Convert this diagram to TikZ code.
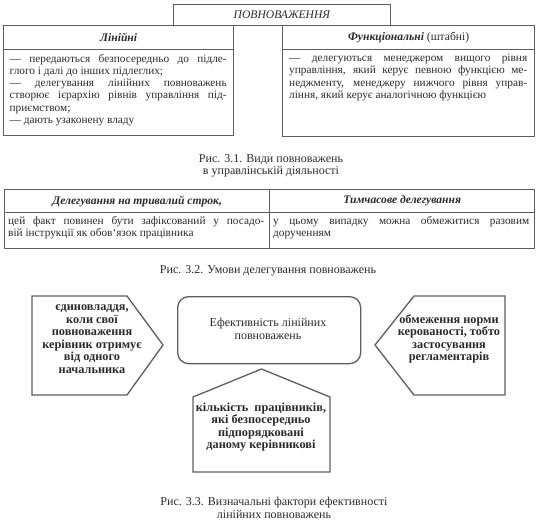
\documentclass[tikz,border=0pt]{standalone}
\usepackage{fontspec}
\setmainfont{Liberation Serif}
\definecolor{linec}{HTML}{5E5E5E}
\definecolor{txt}{HTML}{2A2A2A}
\begin{document}
\begin{tikzpicture}[x=1pt,y=-1pt,
  frame/.style={draw=linec, line width=1.3pt, inner sep=0pt, text=txt},
  bodytext/.style={anchor=north west, inner sep=0pt, align=justify, text=txt,
     font=\fontsize{11.3}{12.2}\selectfont},
  headtext/.style={font=\fontsize{11.6}{12}\selectfont, text=txt},
  caption/.style={align=center, text=txt, font=\fontsize{12}{12.5}\selectfont},
  factor/.style={align=center, text=txt, font=\fontsize{12.3}{12.5}\selectfont\bfseries},
  shapeline/.style={draw=linec, line width=1.3pt}
]
\useasboundingbox (0,0) rectangle (537,524);
\hyphenpenalty=10000 \exhyphenpenalty=10000

% ---------- Fig 3.1 ----------
\node[frame, headtext, minimum width=217, minimum height=21, anchor=north west] (top) at (173,4) {\textit{ПОВНОВАЖЕННЯ}};
\node[frame, headtext, minimum width=230, minimum height=24, anchor=north west] (lh) at (3,25) {\textbf{\textit{Лінійні}}};
\node[frame, minimum width=230, minimum height=86, anchor=north west] (lb) at (3,49) {};
\node[bodytext, text width=217pt] (lt) at (9.5,54) {— передаються безпосередньо до підле-\linebreak
глого і далі до інших підлеглих;\newline
— делегування лінійних повноважень\linebreak
створює ієрархію рівнів управління під-\linebreak
приємством;\newline
— дають узаконену владу};

\node[frame, headtext, minimum width=252, minimum height=24, anchor=north west] (rh) at (282,25) {\textbf{\textit{Функціональні}} (штабні)};
\node[frame, minimum width=252, minimum height=87, anchor=north west] (rb) at (282,49) {};
\node[bodytext, text width=238pt] (rt) at (289,54) {— делегуються менеджером вищого рівня\linebreak
управління, який керує певною функцією ме-\linebreak
неджменту, менеджеру нижчого рівня управ-\linebreak
ління, який керує аналогічною функцією};

\node[caption] (c1) at (271,166) {Рис. 3.1. Види повноважень\\в управлінській діяльності};

% ---------- Fig 3.2 ----------
\node[frame, headtext, minimum width=265, minimum height=23, anchor=north west] (dh1) at (4,189) {\textbf{\textit{Делегування на тривалий строк,}}};
\node[frame, headtext, minimum width=265, minimum height=23, anchor=north west] (dh2) at (269,189) {\textbf{\textit{Тимчасове делегування}}};
\node[frame, minimum width=265, minimum height=36, anchor=north west] (db1) at (4,212) {};
\node[frame, minimum width=265, minimum height=36, anchor=north west] (db2) at (269,212) {};
\node[bodytext, text width=256pt] (dt1) at (8,216) {цей факт повинен бути зафіксований у посадо-\linebreak
вій інструкції як обов`язок працівника};
\node[bodytext, text width=256pt] (dt2) at (273,216) {у цьому випадку можна обмежитися разовим\linebreak
дорученням};

\node[caption] (c2) at (268,271) {Рис. 3.2. Умови делегування повноважень};

% ---------- Fig 3.3 ----------
\node[draw=linec, line width=1.3pt, rounded corners=11pt, minimum width=183, minimum height=67, anchor=north west, inner sep=0pt] (eff) at (177,296) {};
\node[caption] (efft) at (268,329) {Ефективність лінійних\\повноважень};

\draw[shapeline] (32,296) coordinate (l1) -- (127,296) -- (163,345) -- (127,395) -- (32,395) -- cycle;
\node[factor] (lf) at (92,339) {єдиновладдя,\\коли свої\\повноваження\\керівник отримує\\від одного\\начальника};

\draw[shapeline] (375,345) coordinate (r1) -- (414,296) -- (505,296) -- (505,395) -- (414,395) -- cycle;
\node[factor] (rf) at (449,339) {обмеження норми\\керованості, тобто\\застосування\\регламентарів};

\draw[shapeline] (193,397) coordinate (b1) -- (261.5,369) -- (330,397) -- (330,472) -- (193,472) -- cycle;
\node[factor] (bf) at (261,427) {кількість\ \ працівників,\\які безпосередньо\\підпорядковані\\даному керівникові};

\node[caption] (c3) at (274,508) {Рис. 3.3. Визначальні фактори ефективності\\лінійних повноважень};
\end{tikzpicture}
\end{document}
